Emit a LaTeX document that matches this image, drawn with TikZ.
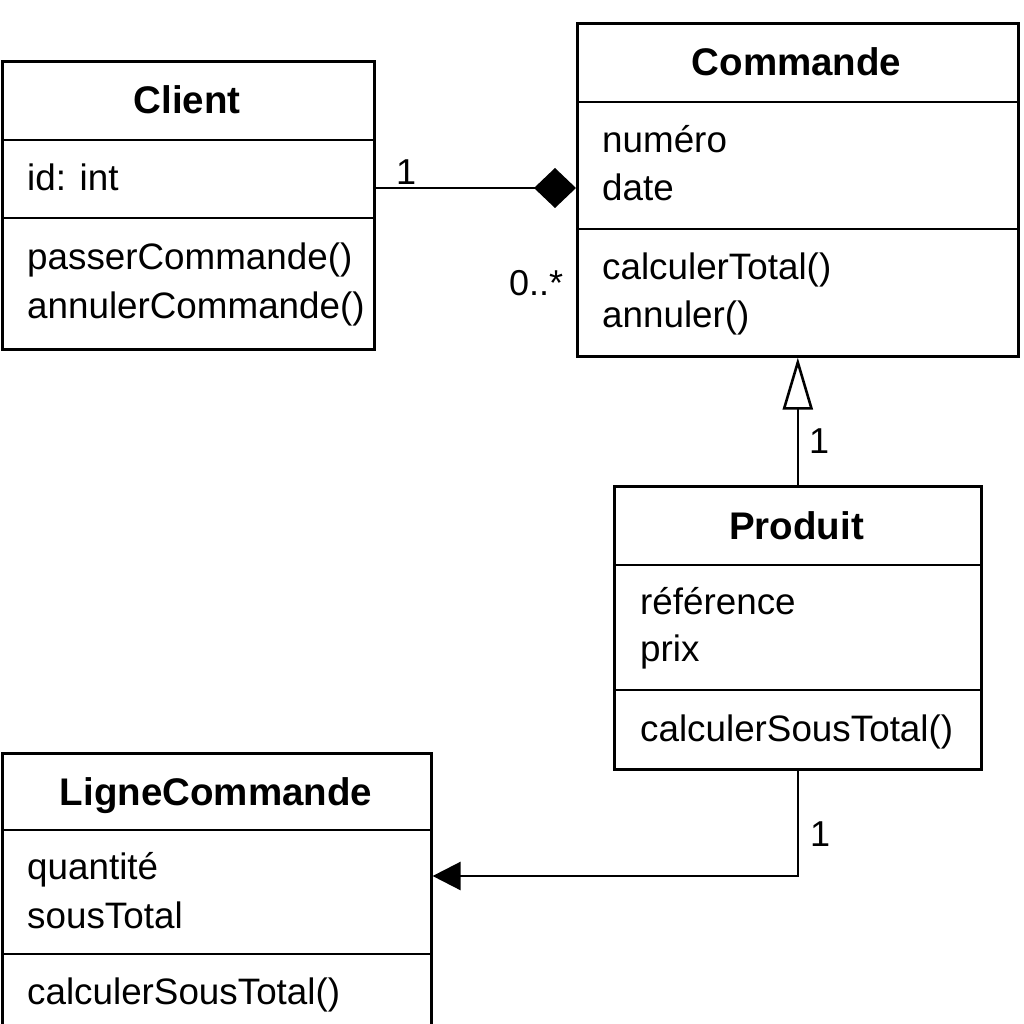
\documentclass[tikz,border=0pt]{standalone}
\usepackage{fontspec}
\setmainfont{Liberation Sans}
\usetikzlibrary{arrows.meta}
\tikzset{
  classbox/.style={draw, line width=2.6pt, anchor=north west, inner sep=0pt},
  divider/.style={line width=2.6pt},
  txt/.style={anchor=base west, inner sep=0pt, font=\fontsize{36.8}{44}\selectfont},
  ttl/.style={anchor=base, inner sep=0pt, font=\fontsize{38.5}{46}\selectfont\bfseries},
  mult/.style={anchor=base west, inner sep=0pt, font=\fontsize{36}{43}\selectfont},
  conn/.style={line width=2.6pt},
}
\begin{document}
\begin{tikzpicture}[x=1pt,y=-1pt]
\useasboundingbox (0,0) rectangle (1024,1024);
\clip (0,0) rectangle (1024,1024);
\fill[white] (0,0) rectangle (1024,1024);

% Client
\node[classbox, minimum width=372pt, minimum height=288pt] (client) at (1,60) {};
\draw[divider] (client.west |- 0,140) -- (client.east |- 0,140);
\draw[divider] (client.west |- 0,218) -- (client.east |- 0,218);
\node[ttl] (clientT) at (187,114) {Client};
\node[txt] (clientA1) at (27,191) {id: int};
\node[txt] (clientM1) at (27,269) {passerCommande()};
\node[txt] (clientM2) at (27,318) {annulerCommande()};

% Commande
\node[classbox, minimum width=441pt, minimum height=333pt] (commande) at (576,22) {};
\draw[divider] (commande.west |- 0,102) -- (commande.east |- 0,102);
\draw[divider] (commande.west |- 0,229) -- (commande.east |- 0,229);
\node[ttl] (commandeT) at (796.5,76) {Commande};
\node[txt] (commandeA1) at (602,153) {numéro};
\node[txt] (commandeA2) at (602,201) {date};
\node[txt] (commandeM1) at (602,279) {calculerTotal()};
\node[txt] (commandeM2) at (602,327) {annuler()};

% Produit
\node[classbox, minimum width=367pt, minimum height=283pt] (produit) at (613,485) {};
\draw[divider] (produit.west |- 0,565) -- (produit.east |- 0,565);
\draw[divider] (produit.west |- 0,690) -- (produit.east |- 0,690);
\node[ttl] (produitT) at (796.5,539) {Produit};
\node[txt] (produitA1) at (640,614) {référence};
\node[txt] (produitA2) at (640,661) {prix};
\node[txt] (produitM1) at (640,741) {calculerSousTotal()};

% LigneCommande
\node[classbox, minimum width=429pt, minimum height=300pt] (ligne) at (1,752) {};
\draw[divider] (ligne.west |- 0,830) -- (ligne.east |- 0,830);
\draw[divider] (ligne.west |- 0,954) -- (ligne.east |- 0,954);
\node[ttl] (ligneT) at (216,805) {LigneCommande};
\node[txt] (ligneA1) at (27,879) {quantité};
\node[txt] (ligneA2) at (27,928) {sousTotal};
\node[txt] (ligneM1) at (27,1004) {calculerSousTotal()};

% connectors
\coordinate (compStart) at (client.east |- 0,188);
\coordinate (compEnd) at (commande.west |- 0,188);
\draw[conn, -{Diamond[length=42pt, width=40pt, fill=black]}] (compStart) -- (compEnd);

\draw[conn, -{Triangle[open, length=52pt, width=30pt, fill=white, line width=2.6pt]}] (produit.north) -- (commande.south);

\coordinate (assocEnd) at (ligne.east |- 0,876);
\draw[conn, -{Triangle[length=28pt, width=28pt]}] (produit.south) |- (assocEnd);

% multiplicities
\node[mult] (m1) at (396,185) {1};
\node[mult] (m2) at (509,295) {0..*};
\node[mult] (m3) at (809,453) {1};
\node[mult] (m4) at (810,846) {1};
\end{tikzpicture}
\end{document}
